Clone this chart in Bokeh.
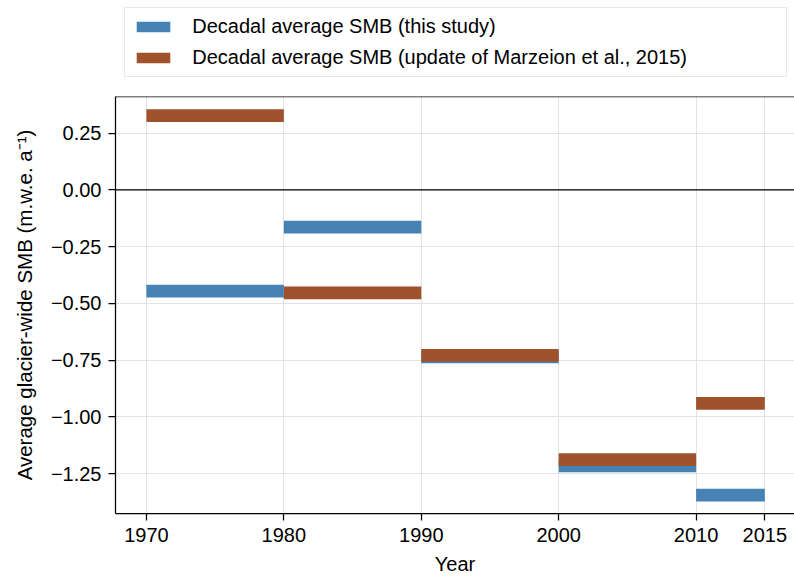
from bokeh.plotting import figure
from bokeh.layouts import column
from bokeh.models import (ColumnDataSource, FixedTicker, Span, Legend, LegendItem, Range1d)
from bokeh.embed import file_html
from bokeh.resources import INLINE

# ---- data ----
decade_start = [1970, 1980, 1990, 2000, 2010]
decade_end = [1980, 1990, 2000, 2010, 2015]
smb_this_study = [-0.446, -0.164, -0.736, -1.215, -1.344]
smb_marzeion = [0.327, -0.454, -0.729, -1.188, -0.940]
x_ticks = [1970, 1980, 1990, 2000, 2010, 2015]
y_ticks = [0.25, 0.0, -0.25, -0.5, -0.75, -1.0, -1.25]
y_tick_labels = ["0.25", "0.00", "\u22120.25", "\u22120.50", "\u22120.75", "\u22121.00", "\u22121.25"]
label_this = "Decadal average SMB (this study)"
label_marz = "Decadal average SMB (update of Marzeion et al., 2015)"

FONT = "Liberation Sans"
FS = "20px"
BLUE = "#4682b4"
ORANGE = "#a0522d"
BAR_H = 0.056

src_this = ColumnDataSource(dict(left=decade_start, right=decade_end, y=smb_this_study))
src_marz = ColumnDataSource(dict(left=decade_start, right=decade_end, y=smb_marzeion))

# ---------- main chart ----------
p = figure(width=794, height=484, output_backend="svg", toolbar_location=None,
           x_range=Range1d(1967.75, 2017.16), y_range=Range1d(-1.425, 0.411),
           min_border_left=115, min_border_right=0, min_border_top=1, min_border_bottom=66)
p.outline_line_color = None
p.background_fill_color = "white"
p.border_fill_color = "white"

r1 = p.hbar(y="y", left="left", right="right", height=BAR_H, source=src_this,
            fill_color=BLUE, line_color=None)
r2 = p.hbar(y="y", left="left", right="right", height=BAR_H, source=src_marz,
            fill_color=ORANGE, line_color=None)

p.add_layout(Span(location=0, dimension="width", line_color="black", line_width=1.25))
# top spine
p.add_layout(Span(location=p.y_range.end, dimension="width", line_color="black", line_width=1.25))

for ax in (p.xaxis[0], p.yaxis[0]):
    ax.axis_line_width = 1.25
    ax.axis_line_color = "black"
    ax.major_tick_line_width = 1.25
    ax.major_tick_line_color = "black"
    ax.major_tick_out = 7
    ax.major_tick_in = 0
    ax.minor_tick_line_color = None
    ax.major_label_text_font = FONT
    ax.major_label_text_font_size = FS
    ax.major_label_text_color = "black"
    ax.major_label_standoff = 7
    ax.axis_label_text_font = FONT
    ax.axis_label_text_font_size = FS
    ax.axis_label_text_font_style = "normal"
    ax.axis_label_text_color = "black"

p.xaxis.ticker = FixedTicker(ticks=x_ticks)
p.xaxis.axis_label = "Year"
p.xaxis.axis_label_standoff = 8
p.yaxis.ticker = FixedTicker(ticks=y_ticks)
p.yaxis.major_label_overrides = {t: l for t, l in zip(y_ticks, y_tick_labels)}
p.yaxis.axis_label = "Average glacier-wide SMB (m.w.e. a\u207b\u00b9)"
p.yaxis.axis_label_text_font_size = "20.5px"
p.yaxis.axis_label_standoff = 12

p.xgrid.ticker = FixedTicker(ticks=x_ticks)
p.ygrid.ticker = FixedTicker(ticks=y_ticks)
for g in (p.xgrid[0], p.ygrid[0]):
    g.grid_line_color = "#e3e3e3"
    g.grid_line_width = 1

# ---------- legend strip (same series, drawn out of view; only the legend shows) ----------
lg = figure(width=794, height=95, output_backend="svg", toolbar_location=None,
            x_range=Range1d(0, 1), y_range=Range1d(0, 1),
            x_axis_type=None, y_axis_type=None,
            min_border_left=115, min_border_right=0, min_border_top=0, min_border_bottom=0)
lg.outline_line_color = None
lg.xgrid.visible = False
lg.ygrid.visible = False
lg.background_fill_color = "white"
lg.border_fill_color = "white"
l1 = lg.hbar(y="y", left="left", right="right", height=BAR_H, source=src_this,
             fill_color=BLUE, line_color=None)
l2 = lg.hbar(y="y", left="left", right="right", height=BAR_H, source=src_marz,
             fill_color=ORANGE, line_color=None)

legend = Legend(items=[LegendItem(label=label_this, renderers=[l1]),
                       LegendItem(label=label_marz, renderers=[l2])],
                location=(9.3, 17.7), orientation="vertical")
legend.glyph_width = 42
legend.glyph_height = 13
legend.label_standoff = 18
legend.label_width = 587
legend.label_height = 20
legend.spacing = 8
legend.padding = 7
legend.margin = 0
legend.label_text_font = FONT
legend.label_text_font_size = FS
legend.label_text_color = "black"
legend.border_line_color = "#d2d2d2"
legend.border_line_width = 1.25
legend.background_fill_color = "white"
legend.background_fill_alpha = 1
lg.add_layout(legend, "center")

layout = column(lg, p, spacing=0)
open("out.html", "w").write(file_html(layout, INLINE))
